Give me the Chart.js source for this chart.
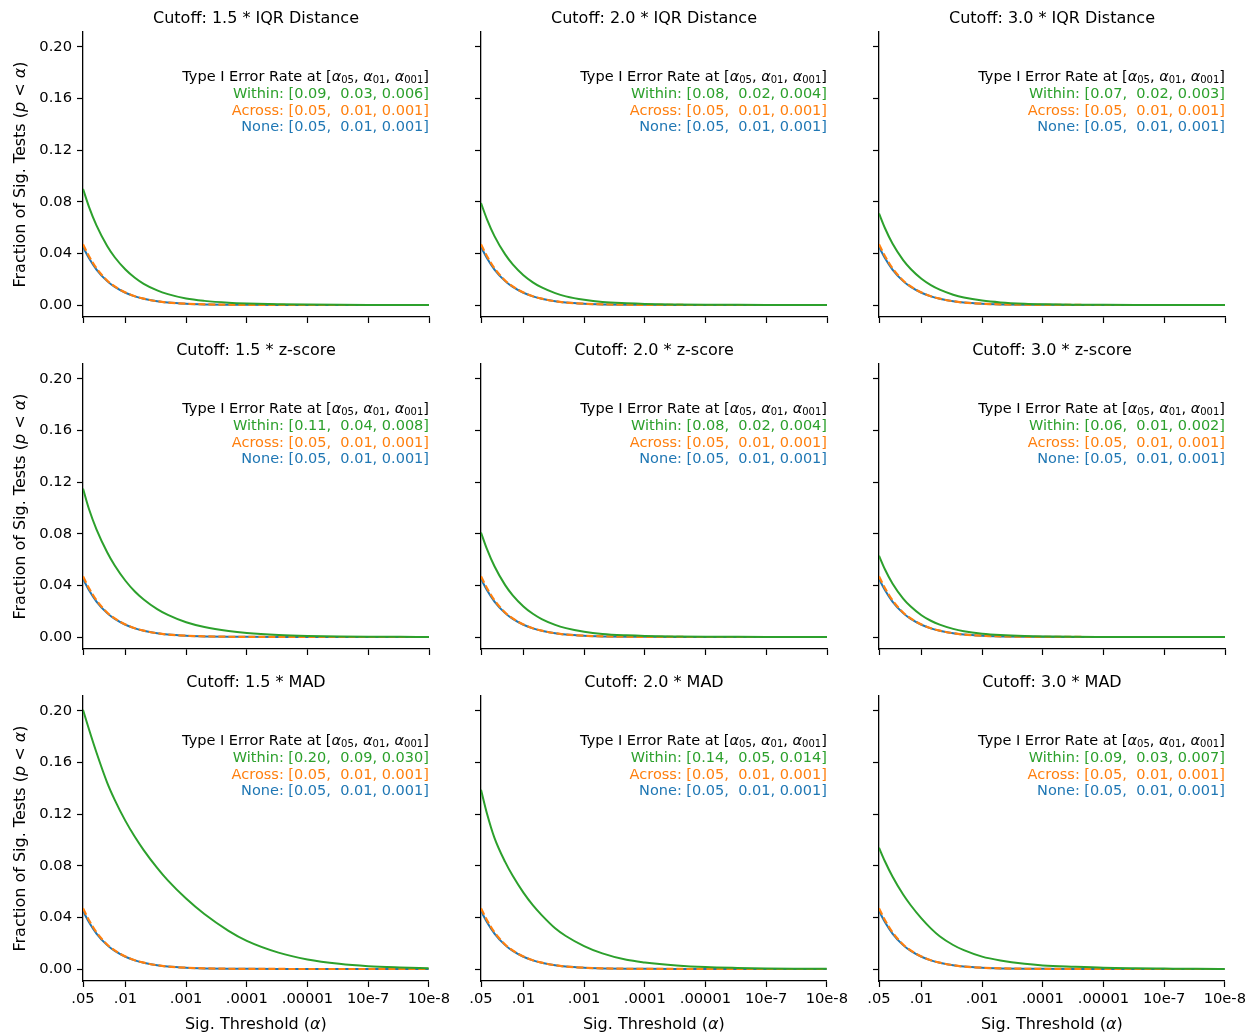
<!DOCTYPE html>
<html>
<head>
<meta charset="utf-8">
<script src="https://cdn.jsdelivr.net/npm/chart.js@4.4.1/dist/chart.umd.min.js"></script>
<style>
  body { margin: 0; background: #fff; }
  #wrap { position: relative; width: 1256px; height: 1033px; }
  #wrap canvas { position: absolute; }
</style>
</head>
<body>
<div id="wrap"></div>
<script>
const alphas = [0.05, 0.04, 0.03, 0.02, 0.015, 0.01, 0.007, 0.005, 0.003, 0.002, 0.001,
  0.0005, 0.0002, 0.0001, 0.00003, 0.00001, 0.000003, 0.000001, 0.0000003, 0.0000001];

// "None" and "Across" look the same in every panel
const noneVals   = [0.045, 0.0365, 0.0275, 0.0185, 0.0140, 0.0095, 0.0067, 0.0048, 0.0029, 0.0019, 0.00096,
  0.00048, 0.00019, 0.0001, 0.00003, 0.00001, 0.000003, 0.000001, 0, 0];
const acrossVals = [0.047, 0.038, 0.0285, 0.019, 0.0144, 0.0097, 0.0068, 0.0049, 0.0029, 0.0019, 0.00097,
  0.00048, 0.00019, 0.0001, 0.00003, 0.00001, 0.000003, 0.000001, 0, 0];

// "Within" per panel (row by row)
const withinIqr15 = [0.090, 0.0763, 0.0617, 0.0457, 0.0370, 0.0275, 0.0211, 0.0164, 0.0113, 0.0084, 0.0050,
  0.0032, 0.0018, 0.0012, 0.0006, 0.0003, 0.00015, 0.00008, 0.00004, 0.00002];
const withinIqr20 = [0.079, 0.0666, 0.0534, 0.0392, 0.0315, 0.0231, 0.0176, 0.0136, 0.0092, 0.0067, 0.0040,
  0.0023, 0.0013, 0.0008, 0.0004, 0.0002, 0.0001, 0.00005, 0.00002, 0.00001];
const withinIqr30 = [0.071, 0.0597, 0.0477, 0.0348, 0.0279, 0.0203, 0.0154, 0.0119, 0.0080, 0.0058, 0.0034,
  0.0020, 0.0010, 0.0006, 0.00025, 0.0001, 0.00005, 0.00002, 0.00001, 0];
const withinZ15   = [0.115, 0.0994, 0.0835, 0.0657, 0.0554, 0.0436, 0.0353, 0.0291, 0.0216, 0.0171, 0.0114,
  0.0077, 0.0046, 0.0031, 0.0016, 0.00086, 0.00042, 0.0002, 0.0001, 0.00005];
const withinZ20   = [0.081, 0.0683, 0.0548, 0.0402, 0.0323, 0.0237, 0.0180, 0.0139, 0.0094, 0.0069, 0.0041,
  0.0024, 0.0013, 0.0008, 0.0004, 0.0002, 0.0001, 0.00005, 0.00002, 0.00001];
const withinZ30   = [0.063, 0.0525, 0.0415, 0.0298, 0.0236, 0.0169, 0.0126, 0.0096, 0.0063, 0.0045, 0.0026,
  0.0015, 0.0007, 0.0004, 0.00015, 0.00006, 0.00002, 0.00001, 0, 0];
const withinMad15 = [0.201, 0.186, 0.1678, 0.1445, 0.1311, 0.1148, 0.1025, 0.0922, 0.0784, 0.0687, 0.0546,
  0.0426, 0.0296, 0.0218, 0.0127, 0.0074, 0.0040, 0.0022, 0.0012, 0.0006];
const withinMad20 = [0.139, 0.1208, 0.1017, 0.083, 0.0722, 0.0592, 0.0495, 0.0418, 0.0316, 0.0256, 0.0178,
  0.0121, 0.0071, 0.0051, 0.0028, 0.0015, 0.0008, 0.0004, 0.0002, 0.0001];
const withinMad30 = [0.094, 0.0835, 0.0717, 0.0577, 0.0494, 0.0392, 0.0315, 0.0254, 0.0186, 0.0146, 0.0096,
  0.0066, 0.0040, 0.0028, 0.0017, 0.0009, 0.0005, 0.0003, 0.0001, 0.00005];

const titles = ['Cutoff: 1.5 * IQR Distance', 'Cutoff: 2.0 * IQR Distance', 'Cutoff: 3.0 * IQR Distance',
  'Cutoff: 1.5 * z-score', 'Cutoff: 2.0 * z-score', 'Cutoff: 3.0 * z-score',
  'Cutoff: 1.5 * MAD', 'Cutoff: 2.0 * MAD', 'Cutoff: 3.0 * MAD'];
const withinSeries = [withinIqr15, withinIqr20, withinIqr30, withinZ15, withinZ20, withinZ30,
  withinMad15, withinMad20, withinMad30];

// error rates at alpha .05 / .01 / .001 printed in each panel
const withinRates = [[0.09, 0.03, 0.006], [0.08, 0.02, 0.004], [0.07, 0.02, 0.003],
  [0.11, 0.04, 0.008], [0.08, 0.02, 0.004], [0.06, 0.01, 0.002],
  [0.20, 0.09, 0.030], [0.14, 0.05, 0.014], [0.09, 0.03, 0.007]];
const acrossRates = [0.05, 0.01, 0.001];
const noneRates = [0.05, 0.01, 0.001];

const xTicks = [0.05, 0.01, 0.001, 0.0001, 0.00001, 0.000001, 0.0000001];
const xTickLabels = ['.05', '.01', '.001', '.0001', '.00001', '10e-7', '10e-8'];
const yTicks = [0, 0.04, 0.08, 0.12, 0.16, 0.20];

const GREEN = '#2ca02c', ORANGE = '#ff7f0e', BLUE = '#1f77b4';
const FAM = '"DejaVu Sans", sans-serif';

// canvas placement: plot areas are 346 x 285
const colLeft = [0, 398, 796];
const rowTop = [0, 332, 664];
const CW = 453, CH = 369;

function fmtRates(r) {
  return '[' + r[0].toFixed(2) + ',  ' + r[1].toFixed(2) + ', ' + r[2].toFixed(3) + ']';
}

// draw a row of text pieces with mixed fonts
function drawRich(ctx, parts, x, y, align) {
  let w = 0;
  parts.forEach(p => { ctx.font = p.font; p.w = ctx.measureText(p.t).width; w += p.w; });
  let cx = align === 'right' ? x - w : (align === 'center' ? x - w / 2 : x);
  ctx.textAlign = 'left';
  ctx.textBaseline = 'middle';
  parts.forEach(p => {
    ctx.font = p.font;
    ctx.fillStyle = p.color || '#000';
    ctx.fillText(p.t, cx, y + (p.dy || 0));
    cx += p.w;
  });
}

const panelText = {
  id: 'panelText',
  afterDraw(chart, args, o) {
    const ctx = chart.ctx, a = chart.chartArea;
    const norm = '14.5px ' + FAM, ital = 'italic 14.5px ' + FAM, sub = '10px ' + FAM;
    const mid = (a.left + a.right) / 2;
    ctx.save();
    // panel title
    drawRich(ctx, [{t: o.title, font: '16px ' + FAM}], mid, a.top - 13, 'center');

    // rates box
    const lh = 16.9, y0 = a.top + 45;
    drawRich(ctx, [
      {t: 'Type I Error Rate at [', font: norm},
      {t: 'α', font: ital}, {t: '05', font: sub, dy: 3},
      {t: ', ', font: norm},
      {t: 'α', font: ital}, {t: '01', font: sub, dy: 3},
      {t: ', ', font: norm},
      {t: 'α', font: ital}, {t: '001', font: sub, dy: 3},
      {t: ']', font: norm}
    ], a.right, y0, 'right');
    drawRich(ctx, [{t: 'Within: ' + fmtRates(o.within), font: norm, color: GREEN}], a.right, y0 + lh, 'right');
    drawRich(ctx, [{t: 'Across: ' + fmtRates(acrossRates), font: norm, color: ORANGE}], a.right, y0 + 2 * lh, 'right');
    drawRich(ctx, [{t: 'None: ' + fmtRates(noneRates), font: norm, color: BLUE}], a.right, y0 + 3 * lh, 'right');

    // axis titles only on outer panels
    if (o.col === 0) {
      ctx.translate(a.left - 62, (a.top + a.bottom) / 2);
      ctx.rotate(-Math.PI / 2);
      drawRich(ctx, [
        {t: 'Fraction of Sig. Tests (', font: '16px ' + FAM},
        {t: 'p', font: 'italic 16px ' + FAM},
        {t: ' < ', font: '16px ' + FAM},
        {t: 'α', font: 'italic 16px ' + FAM},
        {t: ')', font: '16px ' + FAM}
      ], 0, 0, 'center');
      ctx.setTransform(1, 0, 0, 1, 0, 0);
    }
    if (o.row === 2) {
      drawRich(ctx, [
        {t: 'Sig. Threshold (', font: '16px ' + FAM},
        {t: 'α', font: 'italic 16px ' + FAM},
        {t: ')', font: '16px ' + FAM}
      ], mid, a.bottom + 44, 'center');
    }
    ctx.restore();
  }
};

const wrap = document.getElementById('wrap');

titles.forEach((title, k) => {
  const row = Math.floor(k / 3), col = k % 3;
  const cv = document.createElement('canvas');
  cv.width = CW; cv.height = CH;
  cv.style.left = colLeft[col] + 'px';
  cv.style.top = rowTop[row] + 'px';
  wrap.appendChild(cv);

  const pts = vals => alphas.map((x, i) => ({x: x, y: vals[i]}));

  new Chart(cv, {
    type: 'line',
    data: {
      datasets: [
        {label: 'Within', data: pts(withinSeries[k]), borderColor: GREEN, borderWidth: 2,
          pointRadius: 0, cubicInterpolationMode: 'monotone'},
        {label: 'Across', data: pts(acrossVals), borderColor: ORANGE, borderWidth: 2.2,
          borderDash: [7, 3], pointRadius: 0, cubicInterpolationMode: 'monotone'},
        {label: 'None', data: pts(noneVals), borderColor: BLUE, borderWidth: 2,
          pointRadius: 0, cubicInterpolationMode: 'monotone'}
      ]
    },
    options: {
      responsive: false,
      animation: false,
      events: [],
      layout: {padding: {left: 0, top: 32, right: 24, bottom: 0}},
      plugins: {
        legend: {display: false},
        tooltip: {enabled: false},
        panelText: {title: title, within: withinRates[k], row: row, col: col}
      },
      scales: {
        x: {
          type: 'logarithmic',
          reverse: true,
          min: 0.0000001,
          max: 0.05,
          afterBuildTicks: s => { s.ticks = xTicks.map(v => ({value: v})); },
          afterFit: s => { s.height = 52; },
          grid: {drawOnChartArea: false, drawTicks: true, tickLength: 6, tickColor: '#000', tickWidth: 1.2},
          border: {display: true, color: '#000', width: 1.3},
          ticks: {
            autoSkip: false, maxRotation: 0, minRotation: 0, padding: 3, color: '#000',
            font: {family: 'DejaVu Sans', size: 14.7},
            callback: (v, i) => row === 2 ? xTickLabels[i] : ''
          }
        },
        y: {
          min: -0.0093,
          max: 0.2116,
          afterBuildTicks: s => { s.ticks = yTicks.map(v => ({value: v})); },
          afterFit: s => { s.width = 83; },
          grid: {drawOnChartArea: false, drawTicks: true, tickLength: 6, tickColor: '#000', tickWidth: 1.2},
          border: {display: true, color: '#000', width: 1.3},
          ticks: {
            autoSkip: false, padding: 5, color: '#000',
            font: {family: 'DejaVu Sans', size: 14.7},
            callback: v => col === 0 ? v.toFixed(2) : ''
          }
        }
      }
    },
    plugins: [panelText]
  });
});
</script>
</body>
</html>
